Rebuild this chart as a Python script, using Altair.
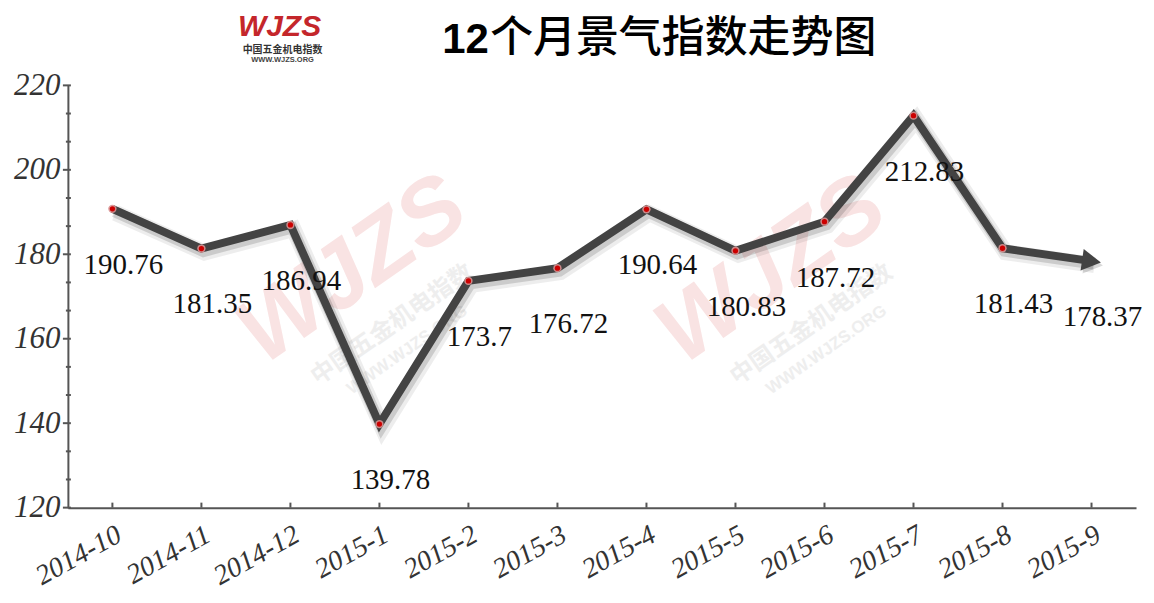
import math
import altair as alt
import pandas as pd

months = ["2014-10", "2014-11", "2014-12", "2015-1", "2015-2", "2015-3",
          "2015-4", "2015-5", "2015-6", "2015-7", "2015-8", "2015-9"]
values = [190.76, 181.35, 186.94, 139.78, 173.7, 176.72,
          190.64, 180.83, 187.72, 212.83, 181.43, 178.37]
labels = ["190.76", "181.35", "186.94", "139.78", "173.7", "176.72",
          "190.64", "180.83", "187.72", "212.83", "181.43", "178.37"]
y_ticks = [120, 140, 160, 180, 200, 220]
title_num = "12"
title_text = "个月景气指数走势图"

W, H = 1070, 423
Y0, Y1 = 120, 220

df = pd.DataFrame({"month": months, "value": values, "label": labels})
pts = df.iloc[:-1]
last = df.iloc[-1:]

minor = []
for a, b in zip(y_ticks[:-1], y_ticks[1:]):
    minor += [a + (b - a) / 3, a + 2 * (b - a) / 3]
major_df = pd.DataFrame({"v": y_ticks})
minor_df = pd.DataFrame({"v": minor})

# arrow angle from the last segment's slope in pixel space
step = W / len(months)
dy_px = (values[-2] - values[-1]) * H / (Y1 - Y0)
arrow_angle = math.degrees(math.atan2(dy_px, step))

xs = alt.Scale(type="point", padding=0.5)
ys = alt.Scale(domain=[Y0, Y1], nice=False, zero=False)
X = alt.X("month:N", sort=months, scale=xs,
          axis=alt.Axis(title=None, labelAngle=331, labelAlign="right",
                        labelBaseline="top", labelFont="Liberation Serif",
                        labelFontStyle="italic", labelFontSize=28,
                        labelColor="#333", labelPadding=13, ticks=False,
                        domainColor="#555", domainWidth=2, grid=False))
Y = alt.Y("value:Q", scale=ys,
          axis=alt.Axis(title=None, values=y_ticks, labelFont="Liberation Serif",
                        labelFontStyle="italic", labelFontSize=31,
                        labelColor="#333", labelPadding=8, ticks=False,
                        domainColor="#555", domainWidth=2, grid=False))

base = alt.Chart(df)
one = df.iloc[:1]

# watermarks
wm = []
for (cx, cy) in [(285, 185), (705, 185)]:
    wm.append(alt.Chart(one).mark_text(
        text="WJZS", font="Liberation Sans", fontWeight="bold", fontStyle="italic",
        fontSize=92, color="#f9e3e3", angle=325, align="center", baseline="middle"
    ).encode(x=alt.value(cx), y=alt.value(cy)))
    wm.append(alt.Chart(one).mark_text(
        text="中国五金机电指数", font="Noto Sans CJK SC", fontWeight="bold",
        fontSize=24, color="#eeeeee", angle=325, align="center", baseline="middle"
    ).encode(x=alt.value(cx + 40), y=alt.value(cy + 55)))
    wm.append(alt.Chart(one).mark_text(
        text="WWW.WJZS.ORG", font="Liberation Sans", fontWeight="bold",
        fontSize=17, color="#eeeeee", angle=325, align="center", baseline="middle"
    ).encode(x=alt.value(cx + 55), y=alt.value(cy + 80)))

shadow1 = base.mark_line(color="#000", opacity=0.07, strokeWidth=16,
                         xOffset=3, yOffset=4, strokeJoin="miter").encode(x=X, y=Y)
shadow2 = base.mark_line(color="#000", opacity=0.14, strokeWidth=11,
                         xOffset=2, yOffset=3, strokeJoin="miter").encode(x=X, y=Y)
line = base.mark_line(color="#434343", strokeWidth=8,
                      strokeJoin="miter").encode(x=X, y=Y)
arrow_sh = alt.Chart(last).mark_point(shape="triangle-right", size=480, filled=True,
                                      color="#000", opacity=0.15, angle=arrow_angle,
                                      xOffset=2, yOffset=3).encode(x=X, y=Y)
arrow = alt.Chart(last).mark_point(shape="triangle-right", size=480, filled=True,
                                   color="#434343", opacity=1,
                                   angle=arrow_angle).encode(x=X, y=Y)
halo = alt.Chart(pts).mark_point(shape="circle", size=70, filled=True,
                                 color="#d99090", opacity=0.9).encode(x=X, y=Y)
dot = alt.Chart(pts).mark_point(shape="circle", size=28, filled=True,
                                color="#cc0000", opacity=1).encode(x=X, y=Y)
text = base.mark_text(font="Liberation Serif", fontSize=29, color="#111",
                      dx=11, dy=56, align="center", baseline="middle").encode(
    x=X, y=Y, text="label:N")

xticks = base.mark_rule(color="#555", strokeWidth=2).encode(
    x=X, y=alt.value(H - 5), y2=alt.value(H))
ymaj = alt.Chart(major_df).mark_rule(color="#555", strokeWidth=2).encode(
    y=alt.Y("v:Q", scale=ys), x=alt.value(-5), x2=alt.value(3))
ymin = alt.Chart(minor_df).mark_rule(color="#555", strokeWidth=2).encode(
    y=alt.Y("v:Q", scale=ys), x=alt.value(-2), x2=alt.value(3))

t_num = alt.Chart(one).mark_text(text=title_num, font="Liberation Sans", fontWeight="bold",
                                 fontSize=42, color="#000", align="left",
                                 baseline="middle").encode(x=alt.value(375), y=alt.value(-45))
t_txt = alt.Chart(one).mark_text(text=title_text, font="Noto Sans CJK SC", fontWeight=500,
                                 fontSize=43, color="#000", align="left",
                                 baseline="middle").encode(x=alt.value(423), y=alt.value(-46))
logo1 = alt.Chart(one).mark_text(text="WJZS", font="Liberation Sans", fontWeight="bold",
                                 fontStyle="italic", fontSize=30, color="#c4262b",
                                 align="center", baseline="middle").encode(
    x=alt.value(212), y=alt.value(-58))
logo2 = alt.Chart(one).mark_text(text="中国五金机电指数", font="Noto Sans CJK SC",
                                 fontWeight="bold", fontSize=10, color="#333",
                                 align="center", baseline="middle").encode(
    x=alt.value(215), y=alt.value(-35))
logo3 = alt.Chart(one).mark_text(text="WWW.WJZS.ORG", font="Liberation Sans",
                                 fontWeight="bold", fontSize=7.5, color="#444",
                                 align="center", baseline="middle").encode(
    x=alt.value(215), y=alt.value(-25))

chart = alt.layer(
    *wm, shadow1, shadow2, line, arrow_sh, arrow, halo, dot, text,
    xticks, ymaj, ymin, t_num, t_txt, logo1, logo2, logo3
).properties(
    width=W, height=H,
    background="white",
    autosize=alt.AutoSizeParams(type="none"),
    padding={"left": 60, "top": 77, "right": 10, "bottom": 80},
).configure_view(strokeWidth=0, stroke="transparent")

chart.save("out.html", embed_options={"renderer": "svg", "actions": False})
